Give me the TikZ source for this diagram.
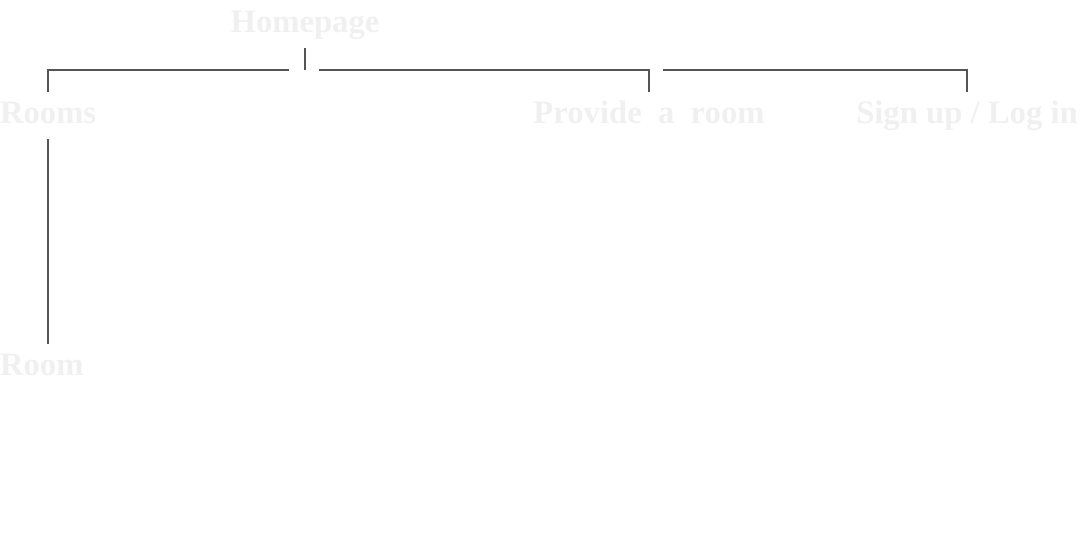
\documentclass[tikz,border=0pt]{standalone}
\usepackage{fontspec}
\setmainfont{Liberation Serif}
\usepackage{tikz}
\usetikzlibrary{positioning,calc}
\usepackage{xcolor}
\definecolor{pagetext}{RGB}{240,240,240}
\definecolor{linkgray}{RGB}{85,85,85}

\begin{document}
\begin{tikzpicture}[x=0.75pt,y=-0.75pt,
        page/.style={font=\bfseries\fontsize{24.5}{28}\selectfont, text=pagetext,
            inner sep=0pt, outer xsep=0pt, outer ysep=6.75pt,
            text height=16.5pt, text depth=5pt},
        link/.style={draw=linkgray, line width=1.1pt}]
            \useasboundingbox (0,0) rectangle (1080,554);

            % Homepage
            \node[page, anchor=base] (home) at (305,32) {Homepage};

            % first level
            \node[page, anchor=base west] (rooms) at (0,123) {Rooms};
            \node[page, anchor=base] (provide) at (649,123) {Provide\ \ a\ \ room};
            \node[page, anchor=base] (signup) at (967,123) {Sign up / Log in};

            % second level
            \node[page, anchor=base west] (room) at (0,375) {Room};

            % bar ends
            \coordinate (barleft) at (289,70);
            \coordinate (barmid) at (319,70);
            \coordinate (barright) at (663,70);

            % links
            \draw[link] (home.south) -- (home.south |- barleft);
            \draw[link] (rooms.north) |- (barleft);
            \draw[link] (barmid) -| (provide.north);
            \draw[link] (barright) -| (signup.north);
            \draw[link] (rooms.south) -- (rooms.south |- room.north);
        \end{tikzpicture}
\end{document}
